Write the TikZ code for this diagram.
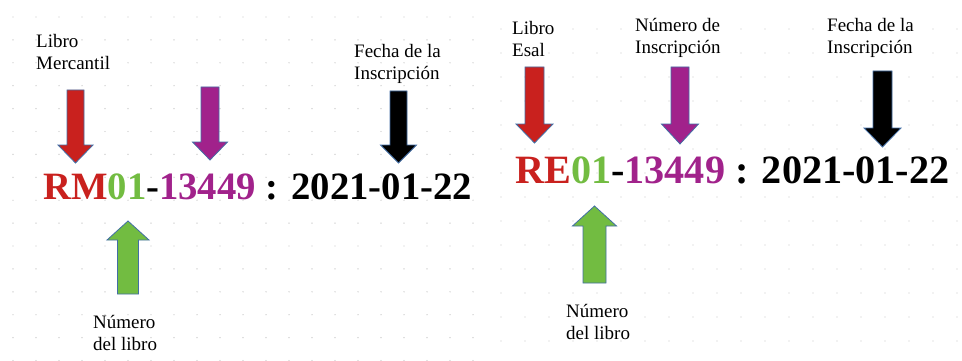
\documentclass[tikz,border=0pt]{standalone}
\usepackage{fontspec}
\setmainfont{Liberation Serif}
\definecolor{cred}{RGB}{201,33,30}
\definecolor{cgreen}{RGB}{114,188,65}
\definecolor{cpurple}{RGB}{161,34,139}
\definecolor{cedge}{RGB}{66,110,165}
\definecolor{cdot}{RGB}{200,200,200}
\newcommand\blockdown[7]{% cx, top, headstart, tip, shafthalf, headhalf, color
  \filldraw[arrowbox, fill=#7] ({#1-#5},#2) -- ({#1+#5},#2) -- ({#1+#5},#3) -- ({#1+#6},#3)
    -- (#1,#4) -- ({#1-#6},#3) -- ({#1-#5},#3) -- cycle;}
\newcommand\blockup[7]{% cx, bottom, headbase, tip, shafthalf, headhalf, color
  \filldraw[arrowbox, fill=#7] ({#1-#5},#2) -- ({#1+#5},#2) -- ({#1+#5},#3) -- ({#1+#6},#3)
    -- (#1,#4) -- ({#1-#6},#3) -- ({#1-#5},#3) -- cycle;}
\begin{document}
\begin{tikzpicture}[x=1pt,y=-1pt,
  arrowbox/.style={draw=cedge, line width=0.8pt, line join=miter},
  lbl/.style={anchor=base west, inner sep=0pt, align=left, font=\fontsize{19}{22}\selectfont},
  code/.style={anchor=base west, inner sep=0pt, font=\bfseries}]
\useasboundingbox (0,0) rectangle (962,361);
\fill[white] (0,0) rectangle (962,361);
% dot grids
\foreach \i in {0,...,20}{\foreach \j in {0,...,15}{\fill[cdot] ({13+23*\i},{17+22.9*\j}) circle (0.7pt);}}
\foreach \i in {0,...,19}{\foreach \j in {0,...,13}{\fill[cdot] ({501+24*\i},{29+24*\j}) circle (0.7pt);}}
% left panel (anchor = baseline of the last line)
\node[lbl] (lm) at (36,70) {Libro\\Mercantil};
\node[lbl] (lf) at (354,80) {Fecha de la\\Inscripción};
\node[lbl] (ln) at (93,350) {Número\\del libro};
\blockdown{75.5}{90}{145}{163}{8.5}{17.5}{cred}
\blockdown{210}{87}{142}{160}{9}{17.5}{cpurple}
\blockdown{398.5}{91}{145}{163}{8.5}{18}{black}
\blockup{128}{294}{240}{221}{10.5}{21}{cgreen}
\node[code, font=\fontsize{38.7}{40}\selectfont\bfseries] (lc) at (43,199)
  {\textcolor{cred}{RM}\textcolor{cgreen}{01}-\textcolor{cpurple}{13449} : 2021-01-22};
% right panel
\node[lbl] (re) at (512,57) {Libro\\Esal};
\node[lbl] (ri) at (635,54) {Número de\\Inscripción};
\node[lbl] (rf) at (827,54) {Fecha de la\\Inscripción};
\node[lbl] (rn) at (566,339) {Número\\del libro};
\blockdown{534.5}{67}{124}{143}{9.5}{18.5}{cred}
\blockdown{680}{67}{124}{144}{9}{18.5}{cpurple}
\blockdown{882.5}{71}{128}{147}{9.5}{18.5}{black}
\blockup{594.5}{283}{226}{206}{11.5}{22}{cgreen}
\node[code, font=\fontsize{40.2}{42}\selectfont\bfseries] (rc) at (515,183)
  {\textcolor{cred}{RE}\textcolor{cgreen}{01}-\textcolor{cpurple}{13449} : 2021-01-22};
\end{tikzpicture}
\end{document}
